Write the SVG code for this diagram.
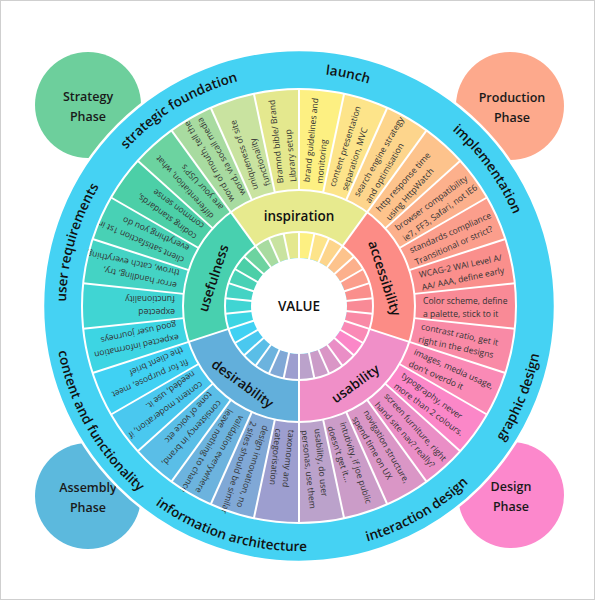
<svg xmlns="http://www.w3.org/2000/svg" width="595" height="600" viewBox="0 0 595 600">
<style>
.o{fill:none;stroke-width:101;stroke-dasharray:34.9 1011.3}
.i{fill:none;stroke-width:26;stroke-dasharray:12.9 370.4}
.b{fill:none;stroke-width:42;stroke-dasharray:119.4 477.5}
.dv line,.dv circle{stroke:#fff;stroke-width:2;fill:none}
.st{font-family:"Open Sans","Liberation Sans",sans-serif;font-size:8.6px;fill:#333}
.bl{font-family:"Open Sans","Liberation Sans",sans-serif;font-size:13.5px;font-weight:600;fill:#111;text-anchor:middle}
.rl{font-family:"Open Sans","Liberation Sans",sans-serif;font-size:13.5px;font-weight:600;fill:#111;text-anchor:middle}
.ph{font-family:"Open Sans","Liberation Sans",sans-serif;font-size:12.5px;font-weight:600;fill:#1a1a1a;text-anchor:middle}
</style>
<defs>
<path id="cw" d="M 66 306 A 233 233 0 1 1 532 306 A 233 233 0 1 1 66 306"/>
<path id="ccw" d="M 544 306 A 245 245 0 1 0 54 306 A 245 245 0 1 0 544 306"/>
</defs>
<rect x="0.5" y="0.5" width="594" height="599" fill="#fff" stroke="#cfcfcf"/>

<g id="phase-strategy"><circle cx="88" cy="105" r="53" fill="#6dcf9c"/><text class="ph" x="88" y="100.5">Strategy</text><text class="ph" x="88" y="120.5">Phase</text></g>
<g id="phase-production"><circle cx="510" cy="106" r="54" fill="#fda98c"/><text class="ph" x="512" y="101.5">Production</text><text class="ph" x="512" y="121.5">Phase</text></g>
<g id="phase-assembly"><circle cx="88" cy="496" r="53" fill="#5cb9dd"/><text class="ph" x="88" y="491.5">Assembly</text><text class="ph" x="88" y="511.5">Phase</text></g>
<g id="phase-design"><circle cx="511" cy="495" r="53" fill="#fc88cc"/><text class="ph" x="511" y="490.5">Design</text><text class="ph" x="511" y="510.5">Phase</text></g>

<g id="outer-ring"><circle cx="299" cy="306" r="256" fill="#45d2f3" stroke="#fff" stroke-width="2.5"/></g>

<g transform="translate(299 306)">
<g id="segments">
<g id="s-color"><circle class="o" r="166.5" stroke="#f98a96" transform="rotate(-6)"/><text class="st" transform="rotate(0)"><tspan x="124" y="-2.5">Color scheme, define</tspan><tspan x="124" y="10.5">a palette, stick to it</tspan></text></g>
<g id="s-contrast"><circle class="o" r="166.5" stroke="#f98aa6" transform="rotate(6)"/><text class="st" transform="rotate(12)"><tspan x="124" y="-2.5">contrast ratio, get it</tspan><tspan x="124" y="10.5">right in the designs</tspan></text></g>
<g id="s-images"><circle class="o" r="166.5" stroke="#fa8ab6" transform="rotate(18)"/><text class="st" transform="rotate(24)"><tspan x="124" y="-2.5">images, media usage,</tspan><tspan x="124" y="10.5">don't overdo it</tspan></text></g>
<g id="s-typography"><circle class="o" r="166.5" stroke="#fb87c8" transform="rotate(30)"/><text class="st" transform="rotate(36)"><tspan x="124" y="-2.5">typography, never</tspan><tspan x="124" y="10.5">more than 2 colours.</tspan></text></g>
<g id="s-screen"><circle class="o" r="166.5" stroke="#ea8ec6" transform="rotate(42)"/><text class="st" transform="rotate(48)"><tspan x="124" y="-2.5">screen furniture, right</tspan><tspan x="124" y="10.5">hand site nav? really?</tspan></text></g>
<g id="s-navigation"><circle class="o" r="166.5" stroke="#da96c6" transform="rotate(54)"/><text class="st" transform="rotate(60)"><tspan x="124" y="-2.5">navigation structure,</tspan><tspan x="124" y="10.5">spend time on UX</tspan></text></g>
<g id="s-intutivity"><circle class="o" r="166.5" stroke="#cb9cc8" transform="rotate(66)"/><text class="st" transform="rotate(72)"><tspan x="124" y="-2.5">intutivity, if joe public</tspan><tspan x="124" y="10.5">doesn't get it...</tspan></text></g>
<g id="s-usability"><circle class="o" r="166.5" stroke="#bba2cb" transform="rotate(78)"/><text class="st" transform="rotate(84)"><tspan x="124" y="-2.5">usability, do user</tspan><tspan x="124" y="10.5">personas, use them</tspan></text></g>
<g id="s-taxonomy"><circle class="o" r="166.5" stroke="#9d9ecf" transform="rotate(90)"/><text class="st" transform="rotate(96)"><tspan x="124" y="-2.5">taxonomy and</tspan><tspan x="124" y="10.5">categorisation</tspan></text></g>
<g id="s-innovation"><circle class="o" r="166.5" stroke="#80a8d6" transform="rotate(102)"/><text class="st" transform="rotate(108)"><tspan x="124" y="-2.5">design innovation, no</tspan><tspan x="124" y="10.5">2 sites should be similar</tspan></text></g>
<g id="s-validation"><circle class="o" r="166.5" stroke="#6cb3de" transform="rotate(114)"/><text class="st" transform="rotate(120)"><tspan x="124" y="-2.5">validation everywhere</tspan><tspan x="124" y="10.5">leave nothing to chance</tspan></text></g>
<g id="s-consistency"><circle class="o" r="166.5" stroke="#5abee7" transform="rotate(126)"/><text class="st" transform="rotate(132)"><tspan x="124" y="-2.5">consistency in brand,</tspan><tspan x="124" y="10.5">tone of voice etc</tspan></text></g>
<g id="s-moderation"><circle class="o" r="166.5" stroke="#4ac8ef" transform="rotate(138)"/><text class="st" transform="rotate(144)"><tspan x="124" y="-2.5">content moderation, if</tspan><tspan x="124" y="10.5">needed, use it.</tspan></text></g>
<g id="s-fit"><circle class="o" r="166.5" stroke="#40d1f3" transform="rotate(150)"/><text class="st" transform="rotate(156)"><tspan x="124" y="-2.5">fit for purpose, meet</tspan><tspan x="124" y="10.5">the client brief</tspan></text></g>
<g id="s-expinfo"><circle class="o" r="166.5" stroke="#3dd5e3" transform="rotate(162)"/><text class="st" transform="rotate(168)"><tspan x="124" y="-2.5">expected information</tspan><tspan x="124" y="10.5">good user journeys</tspan></text></g>
<g id="s-expfunc"><circle class="o" r="166.5" stroke="#40d5d3" transform="rotate(174)"/><text class="st" transform="rotate(180)"><tspan x="124" y="-2.5">expected</tspan><tspan x="124" y="10.5">functionality</tspan></text></g>
<g id="s-error"><circle class="o" r="166.5" stroke="#44d3c4" transform="rotate(186)"/><text class="st" transform="rotate(192)"><tspan x="124" y="-2.5">error handling, try,</tspan><tspan x="124" y="10.5">throw, catch everything</tspan></text></g>
<g id="s-client"><circle class="o" r="166.5" stroke="#48d1b5" transform="rotate(198)"/><text class="st" transform="rotate(204)"><tspan x="124" y="-2.5">client satisfaction 1st in</tspan><tspan x="124" y="10.5">everything you do</tspan></text></g>
<g id="s-coding"><circle class="o" r="166.5" stroke="#4ccfa7" transform="rotate(210)"/><text class="st" transform="rotate(216)"><tspan x="124" y="-2.5">coding standards,</tspan><tspan x="124" y="10.5">common sense</tspan></text></g>
<g id="s-diff"><circle class="o" r="166.5" stroke="#6cd3a0" transform="rotate(222)"/><text class="st" transform="rotate(228)"><tspan x="124" y="-2.5">differentiation, what</tspan><tspan x="124" y="10.5">are your USP's</tspan></text></g>
<g id="s-word"><circle class="o" r="166.5" stroke="#a8dba0" transform="rotate(234)"/><text class="st" transform="rotate(240)"><tspan x="124" y="-2.5">word of mouth, tell the</tspan><tspan x="124" y="10.5">word, via socail media</tspan></text></g>
<g id="s-unique"><circle class="o" r="166.5" stroke="#c9e3a0" transform="rotate(246)"/><text class="st" transform="rotate(252)"><tspan x="124" y="-2.5">uniqueness of site</tspan><tspan x="124" y="10.5">functionality</tspan></text></g>
<g id="s-bible"><circle class="o" r="166.5" stroke="#e4e88e" transform="rotate(258)"/><text class="st" transform="rotate(264)"><tspan x="124" y="-2.5">Bramnd bible/ Brand</tspan><tspan x="124" y="10.5">Library setup</tspan></text></g>
<g id="s-guidelines"><circle class="o" r="166.5" stroke="#fdf082" transform="rotate(270)"/><text class="st" transform="rotate(276)"><tspan x="124" y="-2.5">brand guidelines and</tspan><tspan x="124" y="10.5">monitoring</tspan></text></g>
<g id="s-content"><circle class="o" r="166.5" stroke="#fde48a" transform="rotate(282)"/><text class="st" transform="rotate(288)"><tspan x="124" y="-2.5">content presentation</tspan><tspan x="124" y="10.5">separation, MVC</tspan></text></g>
<g id="s-seo"><circle class="o" r="166.5" stroke="#fdd58c" transform="rotate(294)"/><text class="st" transform="rotate(300)"><tspan x="124" y="-2.5">search engine strategy</tspan><tspan x="124" y="10.5">and optimisation</tspan></text></g>
<g id="s-http"><circle class="o" r="166.5" stroke="#fdc38c" transform="rotate(306)"/><text class="st" transform="rotate(312)"><tspan x="124" y="-2.5">http response time</tspan><tspan x="124" y="10.5">using HttpWatch</tspan></text></g>
<g id="s-browser"><circle class="o" r="166.5" stroke="#fcb08c" transform="rotate(318)"/><text class="st" transform="rotate(324)"><tspan x="124" y="-2.5">browser compatibility</tspan><tspan x="124" y="10.5">ie7, FF3, Safari, not IE6</tspan></text></g>
<g id="s-standards"><circle class="o" r="166.5" stroke="#fb9e8c" transform="rotate(330)"/><text class="st" transform="rotate(336)"><tspan x="124" y="-2.5">standards compliance</tspan><tspan x="124" y="10.5">Transitional or strict?</tspan></text></g>
<g id="s-wcag"><circle class="o" r="166.5" stroke="#fa8f8c" transform="rotate(342)"/><text class="st" transform="rotate(348)"><tspan x="124" y="-2.5">WCAG-2 WAI Level A/</tspan><tspan x="124" y="10.5">AA/ AAA, define early</tspan></text></g>
</g>

<g id="sectors">
<g id="sec-inspiration"><circle class="b" r="95" stroke="#e7ea8e" transform="rotate(234)"/><text class="bl" transform="rotate(270) translate(90 0) rotate(90)" dy="0.35em">inspiration</text></g>
<g id="sec-accessibility"><circle class="b" r="95" stroke="#fc8c86" transform="rotate(306)"/><text class="bl" transform="rotate(342) translate(90 0) rotate(90)" dy="0.35em">accessibility</text></g>
<g id="sec-usability"><circle class="b" r="95" stroke="#f08fc8" transform="rotate(18)"/><text class="bl" transform="rotate(54) translate(96 0) rotate(-90)" dy="0.35em">usability</text></g>
<g id="sec-desirability"><circle class="b" r="95" stroke="#62afdb" transform="rotate(90)"/><text class="bl" transform="rotate(126) translate(96 0) rotate(-90)" dy="0.35em">desirability</text></g>
<g id="sec-usefulness"><circle class="b" r="95" stroke="#48d0af" transform="rotate(162)"/><text class="bl" transform="rotate(198) translate(90 0) rotate(90)" dy="0.35em">usefulness</text></g>
</g>

<g id="spokes">
<circle class="i" r="61" stroke="#f98a96" transform="rotate(-6)"/>
<circle class="i" r="61" stroke="#f98aa6" transform="rotate(6)"/>
<circle class="i" r="61" stroke="#fa8ab6" transform="rotate(18)"/>
<circle class="i" r="61" stroke="#fb87c8" transform="rotate(30)"/>
<circle class="i" r="61" stroke="#ea8ec6" transform="rotate(42)"/>
<circle class="i" r="61" stroke="#da96c6" transform="rotate(54)"/>
<circle class="i" r="61" stroke="#cb9cc8" transform="rotate(66)"/>
<circle class="i" r="61" stroke="#bba2cb" transform="rotate(78)"/>
<circle class="i" r="61" stroke="#9d9ecf" transform="rotate(90)"/>
<circle class="i" r="61" stroke="#80a8d6" transform="rotate(102)"/>
<circle class="i" r="61" stroke="#6cb3de" transform="rotate(114)"/>
<circle class="i" r="61" stroke="#5abee7" transform="rotate(126)"/>
<circle class="i" r="61" stroke="#4ac8ef" transform="rotate(138)"/>
<circle class="i" r="61" stroke="#40d1f3" transform="rotate(150)"/>
<circle class="i" r="61" stroke="#3dd5e3" transform="rotate(162)"/>
<circle class="i" r="61" stroke="#40d5d3" transform="rotate(174)"/>
<circle class="i" r="61" stroke="#44d3c4" transform="rotate(186)"/>
<circle class="i" r="61" stroke="#48d1b5" transform="rotate(198)"/>
<circle class="i" r="61" stroke="#4ccfa7" transform="rotate(210)"/>
<circle class="i" r="61" stroke="#6cd3a0" transform="rotate(222)"/>
<circle class="i" r="61" stroke="#a8dba0" transform="rotate(234)"/>
<circle class="i" r="61" stroke="#c9e3a0" transform="rotate(246)"/>
<circle class="i" r="61" stroke="#e4e88e" transform="rotate(258)"/>
<circle class="i" r="61" stroke="#fdf082" transform="rotate(270)"/>
<circle class="i" r="61" stroke="#fde48a" transform="rotate(282)"/>
<circle class="i" r="61" stroke="#fdd58c" transform="rotate(294)"/>
<circle class="i" r="61" stroke="#fdc38c" transform="rotate(306)"/>
<circle class="i" r="61" stroke="#fcb08c" transform="rotate(318)"/>
<circle class="i" r="61" stroke="#fb9e8c" transform="rotate(330)"/>
<circle class="i" r="61" stroke="#fa8f8c" transform="rotate(342)"/>
</g>

<g id="dividers" class="dv">
<circle r="74"/><circle r="116"/><circle r="217"/>
<line x1="74" x2="116" transform="rotate(18)"/><line x1="74" x2="116" transform="rotate(90)"/><line x1="74" x2="116" transform="rotate(162)"/><line x1="74" x2="116" transform="rotate(234)"/><line x1="74" x2="116" transform="rotate(306)"/>
<line x1="116" x2="217" transform="rotate(6)"/><line x1="116" x2="217" transform="rotate(18)"/><line x1="116" x2="217" transform="rotate(30)"/><line x1="116" x2="217" transform="rotate(42)"/><line x1="116" x2="217" transform="rotate(54)"/><line x1="116" x2="217" transform="rotate(66)"/><line x1="116" x2="217" transform="rotate(78)"/><line x1="116" x2="217" transform="rotate(90)"/><line x1="116" x2="217" transform="rotate(102)"/><line x1="116" x2="217" transform="rotate(114)"/><line x1="116" x2="217" transform="rotate(126)"/><line x1="116" x2="217" transform="rotate(138)"/><line x1="116" x2="217" transform="rotate(150)"/><line x1="116" x2="217" transform="rotate(162)"/><line x1="116" x2="217" transform="rotate(174)"/><line x1="116" x2="217" transform="rotate(186)"/><line x1="116" x2="217" transform="rotate(198)"/><line x1="116" x2="217" transform="rotate(210)"/><line x1="116" x2="217" transform="rotate(222)"/><line x1="116" x2="217" transform="rotate(234)"/><line x1="116" x2="217" transform="rotate(246)"/><line x1="116" x2="217" transform="rotate(258)"/><line x1="116" x2="217" transform="rotate(270)"/><line x1="116" x2="217" transform="rotate(282)"/><line x1="116" x2="217" transform="rotate(294)"/><line x1="116" x2="217" transform="rotate(306)"/><line x1="116" x2="217" transform="rotate(318)"/><line x1="116" x2="217" transform="rotate(330)"/><line x1="116" x2="217" transform="rotate(342)"/><line x1="116" x2="217" transform="rotate(354)"/>
<line x1="47" x2="74" transform="rotate(6)"/><line x1="47" x2="74" transform="rotate(18)"/><line x1="47" x2="74" transform="rotate(30)"/><line x1="47" x2="74" transform="rotate(42)"/><line x1="47" x2="74" transform="rotate(54)"/><line x1="47" x2="74" transform="rotate(66)"/><line x1="47" x2="74" transform="rotate(78)"/><line x1="47" x2="74" transform="rotate(90)"/><line x1="47" x2="74" transform="rotate(102)"/><line x1="47" x2="74" transform="rotate(114)"/><line x1="47" x2="74" transform="rotate(126)"/><line x1="47" x2="74" transform="rotate(138)"/><line x1="47" x2="74" transform="rotate(150)"/><line x1="47" x2="74" transform="rotate(162)"/><line x1="47" x2="74" transform="rotate(174)"/><line x1="47" x2="74" transform="rotate(186)"/><line x1="47" x2="74" transform="rotate(198)"/><line x1="47" x2="74" transform="rotate(210)"/><line x1="47" x2="74" transform="rotate(222)"/><line x1="47" x2="74" transform="rotate(234)"/><line x1="47" x2="74" transform="rotate(246)"/><line x1="47" x2="74" transform="rotate(258)"/><line x1="47" x2="74" transform="rotate(270)"/><line x1="47" x2="74" transform="rotate(282)"/><line x1="47" x2="74" transform="rotate(294)"/><line x1="47" x2="74" transform="rotate(306)"/><line x1="47" x2="74" transform="rotate(318)"/><line x1="47" x2="74" transform="rotate(330)"/><line x1="47" x2="74" transform="rotate(342)"/><line x1="47" x2="74" transform="rotate(354)"/>
</g>

<g id="value"><circle r="48" fill="#fff"/><text class="bl" dy="0.35em">VALUE</text></g>
</g>

<g id="ring-labels">
<text class="rl"><textPath href="#cw" startOffset="28.33%">launch</textPath></text>
<text class="rl"><textPath href="#cw" startOffset="16.25%">strategic foundation</textPath></text>
<text class="rl"><textPath href="#cw" startOffset="4.44%">user requirements</textPath></text>
<text class="rl"><textPath href="#cw" startOffset="40%">implementation</textPath></text>
<text class="rl"><textPath href="#ccw" startOffset="58.33%">content and functionality</textPath></text>
<text class="rl"><textPath href="#ccw" startOffset="70.28%">information architecture</textPath></text>
<text class="rl"><textPath href="#ccw" startOffset="83.33%">interaction design</textPath></text>
<text class="rl"><textPath href="#ccw" startOffset="93.75%">graphic design</textPath></text>
</g>
</svg>
